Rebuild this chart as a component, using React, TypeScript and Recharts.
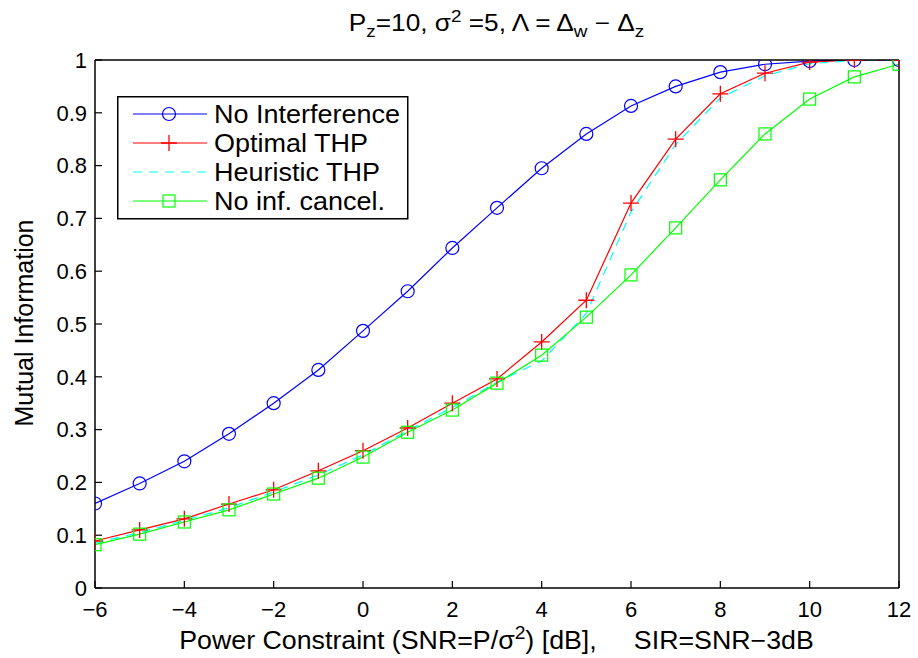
import React from 'react';
import { LineChart, Line, XAxis, YAxis, Legend } from 'recharts';

const FONT = '"Liberation Sans", Arial, Helvetica, sans-serif';

// SNR sweep in dB
const snrDb = [-6, -5, -4, -3, -2, -1, 0, 1, 2, 3, 4, 5, 6, 7, 8, 9, 10, 11, 12];

const noInterference = [0.16, 0.198, 0.24, 0.292, 0.35, 0.413, 0.487, 0.562, 0.644, 0.72, 0.795, 0.86, 0.913, 0.95, 0.977, 0.992, 0.998, 1.0, 1.0];
const optimalThp = [0.089, 0.11, 0.131, 0.159, 0.186, 0.222, 0.26, 0.303, 0.35, 0.396, 0.466, 0.545, 0.729, 0.85, 0.936, 0.975, 0.996, 1.0, 1.0];
const heuristicThp = [0.085, 0.105, 0.128, 0.152, 0.182, 0.214, 0.252, 0.298, 0.342, 0.39, 0.43, 0.52, 0.712, 0.84, 0.928, 0.97, 0.993, 0.999, 1.0];
const noInfCancel = [0.082, 0.102, 0.125, 0.148, 0.178, 0.208, 0.248, 0.295, 0.337, 0.388, 0.441, 0.513, 0.593, 0.682, 0.773, 0.86, 0.926, 0.968, 0.992];

const xTicks = [-6, -4, -2, 0, 2, 4, 6, 8, 10, 12];
const yTicks = [0, 0.1, 0.2, 0.3, 0.4, 0.5, 0.6, 0.7, 0.8, 0.9, 1];

const data = snrDb.map((snr, i) => ({
    snr,
    noInterference: noInterference[i],
    optimalThp: optimalThp[i],
    heuristicThp: heuristicThp[i],
    noInfCancel: noInfCancel[i],
}));

const BLUE = '#0000ff';
const RED = '#ff0000';
const CYAN = '#00ffff';
const GREEN = '#00ff00';

type Marker = 'circle' | 'plus' | 'square' | 'none';

const drawMarker = (kind: Marker, cx: number, cy: number, color: string, key?: string) => {
    if (kind === 'circle') return <circle key={key} cx={cx} cy={cy} r={6.5} fill="none" stroke={color} strokeWidth={1.2} />;
    if (kind === 'plus') return <path key={key} d={`M${cx - 8},${cy}H${cx + 8}M${cx},${cy - 8}V${cy + 8}`} stroke={color} strokeWidth={1.3} fill="none" />;
    if (kind === 'square') return <rect key={key} x={cx - 6} y={cy - 6} width={12} height={12} fill="none" stroke={color} strokeWidth={1.2} />;
    return <g key={key} />;
};

const makeDot = (kind: Marker, color: string) => (p: any) => {
    if (p.cx == null || p.cy == null) return <g key={`e${p.index}`} />;
    return drawMarker(kind, p.cx, p.cy, color, `${kind}${p.index}`);
};

const series = [
    { key: 'noInterference', name: 'No Interference', color: BLUE, marker: 'circle' as Marker, dash: undefined },
    { key: 'optimalThp', name: 'Optimal THP', color: RED, marker: 'plus' as Marker, dash: undefined },
    { key: 'heuristicThp', name: 'Heuristic THP', color: CYAN, marker: 'none' as Marker, dash: '9 7' },
    { key: 'noInfCancel', name: 'No inf. cancel.', color: GREEN, marker: 'square' as Marker, dash: undefined },
];

const fmtX = (v: number) => String(v).replace('-', '\u2212');
const fmtY = (v: number) => String(Math.round(v * 10) / 10);

const LegendBox = () => (
    <svg width={292} height={124} style={{ display: 'block' }}>
        <rect x={0.75} y={0.75} width={290} height={122} fill="#fff" stroke="#000" strokeWidth={1.5} />
        {series.map((s, i) => {
            const cy = 18 + i * 29;
            return (
                <g key={s.key}>
                    <line x1={16} x2={90} y1={cy} y2={cy} stroke={s.color} strokeWidth={1.2} strokeDasharray={s.dash} />
                    {drawMarker(s.marker, 52, cy, s.color)}
                    <text transform={`translate(97 ${cy + 8.5}) scale(1.08 1)`} fontSize={25} fontFamily={FONT} fill="#000">{s.name}</text>
                </g>
            );
        })}
    </svg>
);

const sub: React.CSSProperties = { fontSize: '0.72em', verticalAlign: '-0.35em', lineHeight: 0 };
const sup: React.CSSProperties = { fontSize: '0.72em', verticalAlign: '0.55em', lineHeight: 0 };
const wide = (k: number): React.CSSProperties => ({ display: 'inline-block', transform: `scaleX(${k})`, transformOrigin: 'center' });

export default function App() {
    return (
        <div style={{ position: 'absolute', left: 0, top: 0, width: 918, height: 658, background: '#fff', fontFamily: FONT, color: '#000' }}>
            {/* title */}
            <div style={{ position: 'absolute', left: 95, width: 804, top: 9, lineHeight: '28px', fontSize: 23, textAlign: 'center', whiteSpace: 'nowrap' }}>
                <span style={wide(1.14)}>
                    P<span style={sub}>z</span>=10, σ<span style={sup}>2</span> =5, Λ = Δ<span style={sub}>w</span> − Δ<span style={sub}>z</span>
                </span>
            </div>

            <LineChart width={918} height={658} data={data} margin={{ top: 59, right: 18, bottom: 30, left: 25 }}>
                <XAxis
                    dataKey="snr" type="number" domain={[-6, 12]} ticks={xTicks} tickFormatter={fmtX}
                    height={40} tickSize={-7} tickMargin={20} allowDataOverflow
                    axisLine={{ stroke: '#000', strokeWidth: 1.5 }} tickLine={{ stroke: '#000', strokeWidth: 1.2 }}
                    tick={{ fill: '#000', fontSize: 22, fontFamily: FONT }}
                />
                <XAxis
                    xAxisId="top" orientation="top" dataKey="snr" type="number" domain={[-6, 12]} ticks={xTicks}
                    height={1} tickSize={-7} tick={false}
                    axisLine={{ stroke: '#000', strokeWidth: 1.5 }} tickLine={{ stroke: '#000', strokeWidth: 1.2 }}
                />
                <YAxis
                    type="number" domain={[0, 1]} ticks={yTicks} tickFormatter={fmtY}
                    width={70} tickSize={-7} tickMargin={15} allowDataOverflow
                    axisLine={{ stroke: '#000', strokeWidth: 1.5 }} tickLine={{ stroke: '#000', strokeWidth: 1.2 }}
                    tick={{ fill: '#000', fontSize: 22, fontFamily: FONT }}
                />
                <YAxis
                    yAxisId="right" orientation="right" type="number" domain={[0, 1]} ticks={yTicks}
                    width={1} tickSize={-7} tick={false}
                    axisLine={{ stroke: '#000', strokeWidth: 1.5 }} tickLine={{ stroke: '#000', strokeWidth: 1.2 }}
                />
                {series.map((s) => (
                    <Line
                        key={s.key} type="linear" dataKey={s.key} name={s.name}
                        stroke={s.color} strokeWidth={1.2} strokeDasharray={s.dash}
                        dot={s.marker === 'none' ? false : makeDot(s.marker, s.color)}
                        activeDot={false} isAnimationActive={false}
                    />
                ))}
                <Legend
                    layout="vertical" align="center" verticalAlign="middle"
                    content={() => <LegendBox />}
                    wrapperStyle={{ left: 117, top: 96, width: 292, height: 124 }}
                />
            </LineChart>

            {/* axis labels */}
            <div style={{ position: 'absolute', left: 95, width: 804, top: 626, lineHeight: '28px', fontSize: 25, textAlign: 'center', whiteSpace: 'pre' }}>
                <span style={wide(1.07)}>
                    Power Constraint (SNR=P/σ<span style={sup}>2</span>) [dB],     SIR=SNR−3dB
                </span>
            </div>
            <div style={{ position: 'absolute', left: 24 - 150, top: 323 - 14, width: 300, height: 28, lineHeight: '28px', fontSize: 25, textAlign: 'center', transform: 'rotate(-90deg)', whiteSpace: 'nowrap' }}>
                Mutual Information
            </div>
        </div>
    );
}
